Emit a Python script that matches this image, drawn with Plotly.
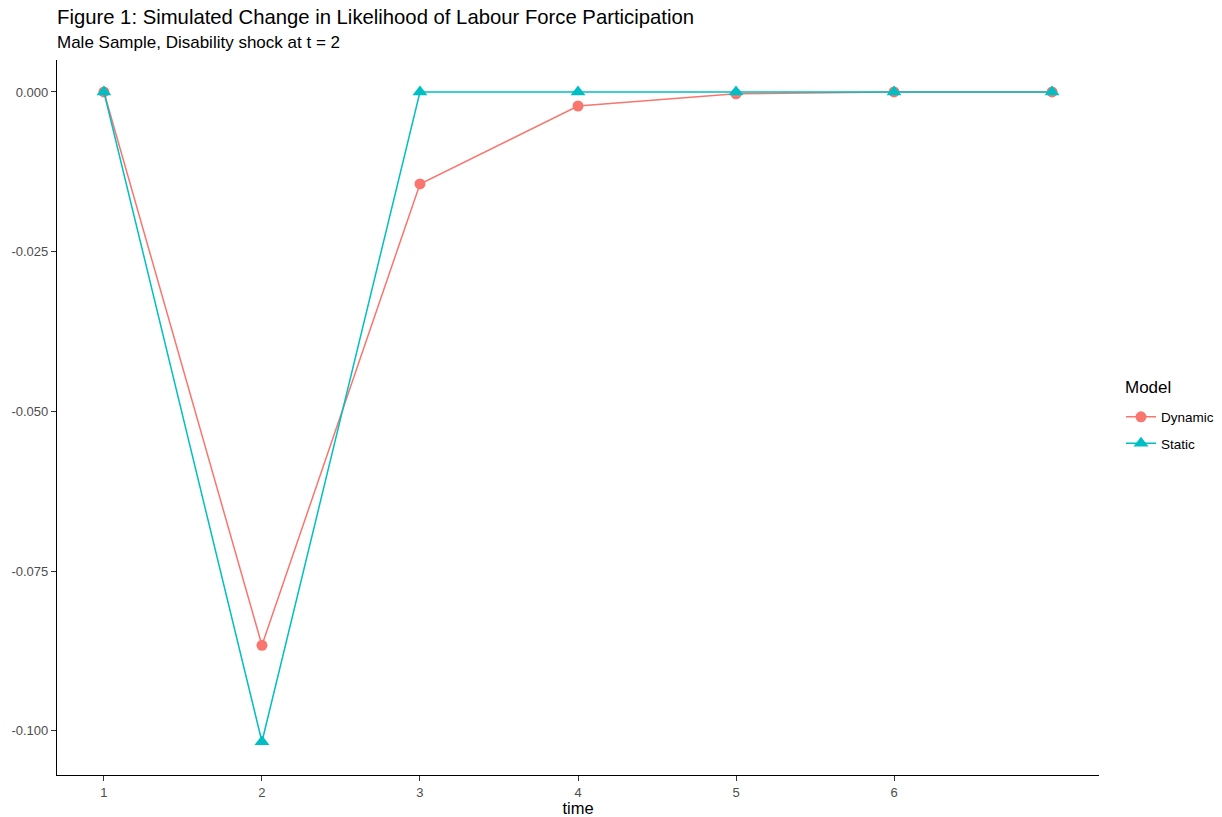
import plotly.graph_objects as go

time = [1, 2, 3, 4, 5, 6, 7]
dynamic = [0.0, -0.0866, -0.0144, -0.0022, -0.0003, 0.0, 0.0]
static = [0.0, -0.1017, 0.0, 0.0, 0.0, 0.0, 0.0]
x_tick_vals = [1, 2, 3, 4, 5, 6]
x_tick_text = ["1", "2", "3", "4", "5", "6"]
y_tick_vals = [0.0, -0.025, -0.05, -0.075, -0.1]
y_tick_text = ["0.000", "-0.025", "-0.050", "-0.075", "-0.100"]

FONT = "Liberation Sans, Arial, sans-serif"

fig = go.Figure()
fig.add_trace(go.Scatter(
    x=time, y=dynamic, name="Dynamic", mode="lines+markers", legendgroup="d",
    line=dict(color="#F8766D", width=1.5),
    marker=dict(symbol="circle", size=11, color="#F8766D"),
))
fig.add_trace(go.Scatter(
    x=time, y=static, name="Static", mode="lines+markers", legendgroup="s",
    line=dict(color="#00BFC4", width=1.5),
    marker=dict(symbol="triangle-up", size=13, color="#00BFC4"),
))

W, H = 1222, 817
L, R, T, B = 57, 123, 60, 42
PH = H - T - B
PW = W - L - R

fig.update_layout(
    width=W, height=H,
    paper_bgcolor="white", plot_bgcolor="white",
    margin=dict(l=L, r=R, t=T, b=B, autoexpand=False),
    font=dict(family=FONT, color="#000000"),
    showlegend=True,
    legend=dict(
        font=dict(size=13.5, color="#000000"),
        x=(1121 - L) / PW, xanchor="left", y=(H - B - 430.5) / PH, yanchor="middle",
        bgcolor="rgba(0,0,0,0)", tracegroupgap=6,
    ),
    annotations=[
        dict(text="Figure 1: Simulated Change in Likelihood of Labour Force Participation",
             xref="paper", yref="paper", x=0, y=1 + 43 / PH, xanchor="left", yanchor="middle",
             xshift=-2, showarrow=False, font=dict(size=20.3, color="#000000", family=FONT)),
        dict(text="Male Sample, Disability shock at t = 2",
             xref="paper", yref="paper", x=0, y=1 + 17 / PH, xanchor="left", yanchor="middle",
             xshift=-2, showarrow=False, font=dict(size=17, color="#000000", family=FONT)),
        dict(text="Model",
             xref="paper", yref="paper", x=(1123 - L) / PW, y=(H - B - 387) / PH,
             xanchor="left", yanchor="middle",
             showarrow=False, font=dict(size=17, color="#000000", family=FONT)),
    ],
)

fig.update_xaxes(
    range=[0.703, 7.297], tickvals=x_tick_vals, ticktext=x_tick_text,
    showgrid=False, zeroline=False, showline=True, linecolor="#000000", linewidth=1.2,
    ticks="outside", ticklen=5, tickcolor="#333333", tickwidth=1,
    tickfont=dict(size=13, color="#4D4D4D"),
    title=dict(text="time", font=dict(size=16.5, color="#000000"), standoff=2),
)
fig.update_yaxes(
    range=[-0.1069, 0.005], tickvals=y_tick_vals, ticktext=y_tick_text,
    showgrid=False, zeroline=False, showline=True, linecolor="#000000", linewidth=1.2,
    ticks="outside", ticklen=5, tickcolor="#333333", tickwidth=1,
    tickfont=dict(size=13, color="#4D4D4D"),
)

fig.write_html(
    "out.html",
    config={"displayModeBar": False},
    post_script="document.body.style.margin='0px';document.body.style.overflow='hidden';",
)
